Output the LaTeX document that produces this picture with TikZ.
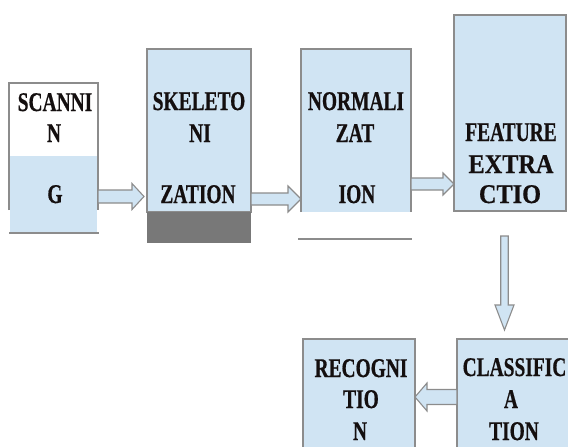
\documentclass[tikz,border=0pt]{standalone}
\usepackage{fontspec}
\setmainfont{Liberation Serif}
\newfontfamily\condfont[FakeStretch=0.72, BoldFeatures={FakeBold=0.6}]{Liberation Serif}
\newfontfamily\semicondfont[FakeStretch=0.9, BoldFeatures={FakeBold=0.6}]{Liberation Serif}
\usetikzlibrary{calc}
\definecolor{boxblue}{RGB}{208,228,243}
\definecolor{edgegray}{RGB}{140,140,140}
\definecolor{shadegray}{RGB}{120,120,120}
\definecolor{txt}{RGB}{20,15,15}
\tikzset{
  region/.style={inner sep=0pt, outer sep=0pt, anchor=north west},
  bluebox/.style={region, fill=boxblue},
  edgeline/.style={draw=edgegray, line width=1.3pt},
  lbl/.style={anchor=base, inner sep=0pt, text=txt, font=\condfont\bfseries\fontsize{27}{27}\selectfont},
  lblwide/.style={lbl, font=\semicondfont\bfseries\fontsize{27}{27}\selectfont},
  blockarrow/.style={fill=boxblue, draw=edgegray, line width=1.1pt, line join=miter},
}
% horizontal block arrow: start, tip, shaft half, head half, signed head length
\newcommand\hblockarrow[5]{%
  \path[blockarrow] let \p1=(#1), \p2=(#2) in
    (\x1,\y1+#3) -- (\x2#5,\y1+#3) -- (\x2#5,\y1+#4) -- (\x2,\y1)
    -- (\x2#5,\y1-#4) -- (\x2#5,\y1-#3) -- (\x1,\y1-#3) -- cycle;}
% downward block arrow: start, tip, shaft half, head half, head length
\newcommand\vblockarrow[5]{%
  \path[blockarrow] let \p1=(#1), \p2=(#2) in
    (\x1-#3,\y1) -- (\x1-#3,\y2+#5) -- (\x1-#4,\y2+#5) -- (\x2,\y2)
    -- (\x1+#4,\y2+#5) -- (\x1+#3,\y2+#5) -- (\x1+#3,\y1) -- cycle;}
\begin{document}
\begin{tikzpicture}[x=1pt, y=-1pt]
\useasboundingbox (0,0) rectangle (568,447);

% Scanning
\node[region, minimum width=89pt, minimum height=150pt] (scan) at (9,83) {};
\fill[boxblue] (10,156) rectangle (97,233);
\draw[edgeline] (9,210) -- (scan.north west) -- (scan.north east) -- (98,210);
\draw[edgeline] (scan.south west) -- ($(scan.south east)+(1,0)$);

% Skeletonization
\node[bluebox, draw=edgegray, line width=1.3pt, minimum width=104pt, minimum height=163pt] (skel) at (147,49) {};
\fill[shadegray] (skel.south west) rectangle (skel.south east |- 0,243);

% Normalization
\node[bluebox, minimum width=110pt, minimum height=163pt] (norm) at (301,49) {};
\draw[edgeline] (norm.south west) -- (norm.north west) -- (norm.north east) -- (norm.south east);
\draw[edgeline] (298,239) -- (412,239);

% Feature extraction
\node[bluebox, draw=edgegray, line width=1.3pt, minimum width=112pt, minimum height=196pt] (feat) at (454,15) {};

% Recognition
\node[bluebox, minimum width=112pt, minimum height=108pt] (recog) at (303,339) {};
\draw[edgeline] (recog.south west) -- (recog.north west) -- (recog.north east) -- (recog.south east);

% Classification
\node[bluebox, minimum width=111pt, minimum height=108pt] (classif) at (457,339) {};
\draw[edgeline] (classif.south west) -- (classif.north west) -- (classif.north east);

% Labels
\node[lbl] (t1) at (55,111) {SCANNI};
\node[lbl] (t2) at (54,142) {N};
\node[lbl] (t3) at (55,203) {G};
\node[lbl] (t4) at (199,110) {SKELETO};
\node[lbl] (t5) at (200,142) {NI};
\node[lbl] (t6) at (198,203) {ZATION};
\node[lbl] (t7) at (356,110) {NORMALI};
\node[lbl] (t8) at (355,142) {ZAT};
\node[lbl] (t9) at (357,203) {ION};
\node[lbl] (t10) at (511,141) {FEATURE};
\node[lblwide] (t11) at (511,173) {EXTRA};
\node[lblwide] (t12) at (510,203) {CTIO};
\node[lbl] (t13) at (361,377) {RECOGNI};
\node[lbl] (t14) at (361,408) {TIO};
\node[lbl] (t15) at (360,440) {N};
\node[lbl] (t16) at (514.5,376) {CLASSIFIC};
\node[lbl] (t17) at (511,408) {A};
\node[lbl] (t18) at (514,440) {TION};

% Arrows
\coordinate (a1s) at (scan.east |- 0,196.5);
\coordinate (a1e) at ($(skel.west |- 0,196.5)+(-3,0)$);
\hblockarrow{a1s}{a1e}{6.5pt}{13pt}{-12pt}
\coordinate (a2s) at (skel.east |- 0,199);
\coordinate (a2e) at (norm.west |- 0,199);
\hblockarrow{a2s}{a2e}{6pt}{13pt}{-13pt}
\coordinate (a3s) at (norm.east |- 0,184);
\coordinate (a3e) at (feat.west |- 0,184);
\hblockarrow{a3s}{a3e}{6pt}{11pt}{-11pt}
\coordinate (a4s) at (504.5,236);
\coordinate (a4e) at (504.5,330);
\vblockarrow{a4s}{a4e}{3.75pt}{9.5pt}{25pt}
\coordinate (a5s) at (classif.west |- 0,397);
\coordinate (a5e) at (recog.east |- 0,397);
\hblockarrow{a5s}{a5e}{7.5pt}{14pt}{+12pt}
\end{tikzpicture}
\end{document}
